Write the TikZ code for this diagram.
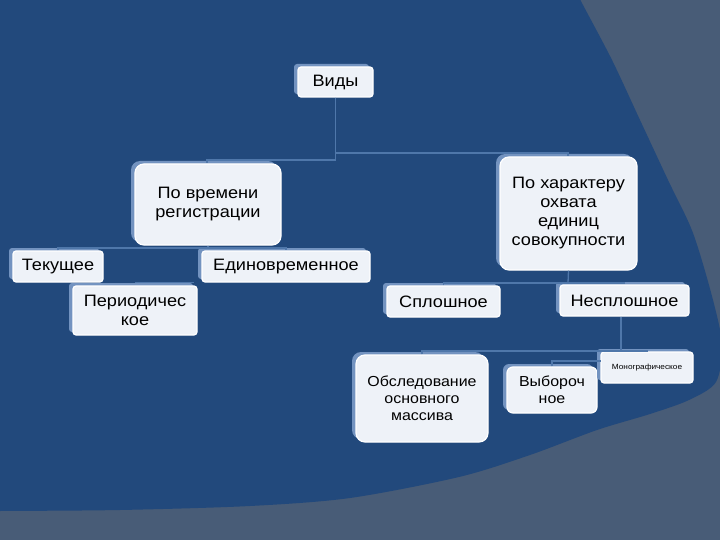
\documentclass[tikz,border=0pt]{standalone}
\usepackage{fontspec}
\setmainfont{Liberation Sans}[FakeStretch=1.1]
\usetikzlibrary{shadows,calc}
\definecolor{slate}{HTML}{485C77}
\definecolor{navy}{HTML}{22497C}
\definecolor{linkblue}{HTML}{4F77AA}
\definecolor{boxfill}{HTML}{EEF2F8}
\definecolor{cardblue}{HTML}{7393C0}
\tikzset{
  box/.style={draw=white, line width=1.2pt, fill=boxfill, rounded corners=3pt,
    align=center, inner sep=1pt, font=\fontsize{16.5}{19}\selectfont,
    drop shadow={shadow xshift=-4pt, shadow yshift=3pt, fill=cardblue, opacity=1}},
  bigbox/.style={box, rounded corners=9pt},
  link/.style={draw=linkblue, line width=1.3pt},
}
\begin{document}
\begin{tikzpicture}[x=1pt, y=-1pt]
	\useasboundingbox (0,0) rectangle (720,540);
	\clip (0,0) rectangle (720,540);
	%
	\fill[slate] (0,0) rectangle (720,540);
	\fill[navy] plot[smooth] coordinates {(578,-5) (583,5) (612,60) (640,120) (668,180) (693,233)
		(713,300) (722,345) (716,382) (689,400) (650,414) (597,430) (530,455) (459,477)
		(350,498) (250,506) (120,510) (0,511) (-5,511)} -- (-5,-5) -- cycle;
	%
	\node[box, minimum width=75, minimum height=30] (vidy) at (335.5,82) {Виды};
	\node[bigbox, minimum width=146, minimum height=81] (vrem) at (208,204.5) {По времени\\регистрации};
	\node[box, minimum width=90, minimum height=31] (tek) at (58,266.5) {Текущее};
	\node[box, minimum width=168, minimum height=31] (edin) at (286,266.5) {Единовременное};
	\node[box, minimum width=124, minimum height=49] (period) at (135,310.5) {Периодичес\\кое};
	\node[bigbox, minimum width=137, minimum height=113] (harakt) at (568.5,213.5) {По характеру\\охвата\\единиц\\совокупности};
	\node[box, minimum width=113, minimum height=31] (splosh) at (443.5,301.5) {Сплошное};
	\node[box, minimum width=129, minimum height=31] (nesplosh) at (624.5,300.5) {Несплошное};
	\node[bigbox, minimum width=132, minimum height=87, font=\fontsize{14.5}{17}\selectfont] (obsl) at (422,398.5) {Обследование\\основного\\массива};
	\node[box, rounded corners=6pt, minimum width=90, minimum height=46, font=\fontsize{14.5}{17}\selectfont] (vybor) at (552,390) {Выбороч\\ное};
	\node[box, minimum width=92, minimum height=31, font=\fontsize{7.5}{9}\selectfont] (monogr) at (647,367.5) {Монографическое};
	%
	\coordinate (jL) at (207,160);
	\coordinate (jR) at (568,153);
	\draw[link] (vidy.south) |- (jL) -- (jL |- vrem.north);
	\draw[link] (vidy.south) |- (jR) -- (jR |- harakt.north);
	%
	\coordinate (jT) at (208,248);
	\draw[link] (vrem.south) -- (jT);
	\draw[link] (tek.north) |- (jT) -| (edin.north);
	\draw[link] ($(period.north)+(0,-3)$) -- ($(period.north east)+(-4,-3)$);
	%
	\coordinate (jH) at (568,283);
	\draw[link] (harakt.south) -- (jH);
	\draw[link] (splosh.north) |- (jH) -| (nesplosh.north);
	%
	\coordinate (jN) at (621,351);
	\coordinate (jV) at (601,361);
	\draw[link] (nesplosh.south -| jN) -- (jN);
	\draw[link] (obsl.north) |- (jN) -| (monogr.north);
	\draw[link] (vybor.north) |- (jV);
	%
\end{tikzpicture}
\end{document}
